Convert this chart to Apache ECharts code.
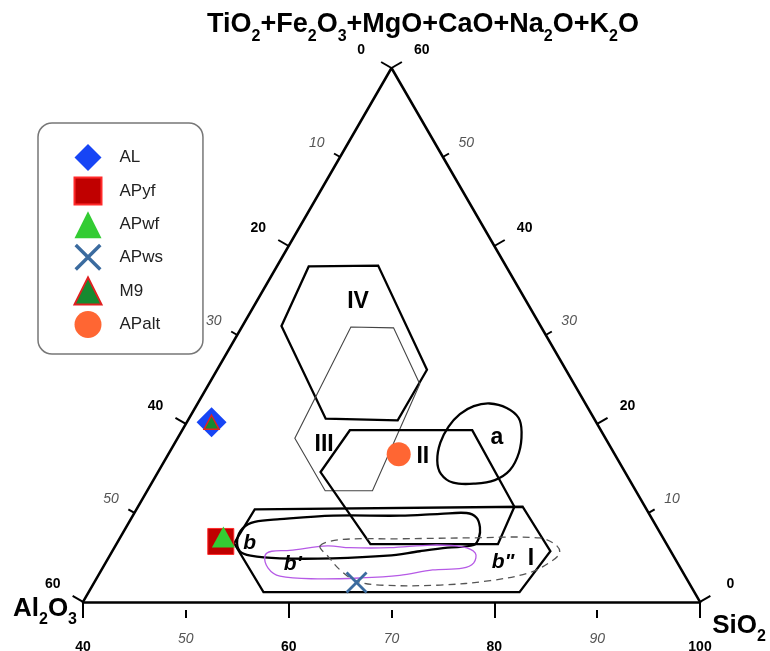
<!DOCTYPE html>
<html><head><meta charset="utf-8">
<script src="https://cdn.jsdelivr.net/npm/echarts@6/dist/echarts.min.js"></script>
<style>html,body{margin:0;padding:0;background:#fff}#c{width:770px;height:651px}</style>
</head><body><div id="c"></div>
<script>
// ---------------- data ----------------
// sample compositions: [SiO2, Al2O3, TiO2+Fe2O3+MgO+CaO+Na2O+K2O]
const sampleNames = ['AL','APyf','APwf','APws','M9','APalt'];
const AL    = [[42.4, 37.4, 20.2]];
const APyf  = [[50.0, 43.2, 6.8]];
const APwf  = [[50.0, 42.7, 7.3]];
const APws  = [[65.5, 32.3, 2.2]];
const M9    = [[42.4, 37.4, 20.2]];
const APalt = [[62.4, 21.0, 16.6]];

// axis ticks
const siO2Ticks  = [40, 50, 60, 70, 80, 90, 100];
const al2O3Ticks = [60, 50, 40, 30, 20, 10, 0];
const otherTicks = [0, 10, 20, 30, 40, 50, 60];

// compositional fields, vertices as [SiO2, TiO2+Fe2O3+MgO+CaO+Na2O+K2O] (Al2O3 = 100 - both)
const fieldIV  = [[43.1,37.7],[49.8,37.8],[60.4,26.1],[60.4,20.4],[53.3,20.6],[43.8,31.0]];
const fieldIII = [[51.4,18.4],[50.6,30.9],[54.8,30.8],[60.5,24.5],[61.9,12.5],[57.3,12.5]];
const fieldII  = [[56.3,19.3],[68.2,19.3],[76.6,10.7],[77.1,6.5],[64.7,6.5],[55.8,14.6]];
const fieldI   = [[51.5,10.4],[77.4,10.7],[82.6,5.7],[81.9,1.1],[57.0,1.1],[51.4,6.6]];
const fieldA   = [[68.4,22.3],[70.3,21.8],[72.0,20.7],[73.1,19.1],[74.0,16.8],[74.1,14.8],[73.2,13.7],[71.5,13.3],[69.3,13.4],[67.6,14.4],[66.5,15.9],[65.8,17.9],[65.7,19.7],[66.1,21.1],[67.0,22.0]];
const fieldB   = [[51.5,7.0],[51.4,8.3],[52.2,9.0],[54.5,9.3],[59.5,9.7],[66.0,9.7],[69.8,9.9],[72.3,10.0],[73.5,9.5],[74.4,8.4],[74.9,7.2],[74.8,6.4],[72.4,6.1],[69.9,5.7],[67.0,5.2],[61.8,4.9],[56.7,4.9],[53.7,5.2],[52.4,5.7]];
const fieldB1  = [[55.1,5.2],[55.5,5.7],[57.2,5.8],[60.6,6.3],[62.9,6.1],[66.8,6.1],[70.8,6.4],[73.8,6.2],[75.4,5.5],[75.8,4.4],[75.0,3.8],[72.2,3.6],[69.3,3.0],[65.6,2.7],[61.5,2.6],[57.7,2.9],[56.1,3.8]];
const fieldB2  = [[59.9,6.3],[61.5,7.0],[67.3,7.1],[74.0,7.2],[80.8,7.2],[82.8,6.4],[83.6,5.5],[83.2,4.5],[81.8,3.3],[78.4,2.4],[73.8,1.9],[67.9,1.9],[65.3,2.4],[63.2,3.6],[61.3,5.1]];

const fieldLabels   = ['IV','III','II','I','a','b',"b'",'b"'];
const fieldLabelPos = [[49.9,33.7],[54.6,17.7],[64.9,16.3],[81.1,4.9],[71.0,18.5],[52.9,6.6],[58.3,4.2],[78.6,4.5]];

// ---------------- helpers ----------------
const S3 = Math.sqrt(3) / 2;
function tern(si, oth) { return [si + oth / 2, oth * S3]; }
const FONT = '"Liberation Sans", Arial, sans-serif';
const NARROW = '"Liberation Sans Narrow", "Liberation Sans", Arial, sans-serif';
const BASE_GAP = 0.78; // space (in axis units) between triangle base and SiO2 axis line

const fields = [fieldIV, fieldIII, fieldII, fieldI, fieldA, fieldB, fieldB1, fieldB2];
const fieldKinds = ['thick','thin','thick','thick','blob','blob','purple','dashed'];
const kindStyle = {
  thick:  {stroke:'#000', lineWidth:2.3, smooth:0},
  thin:   {stroke:'#444', lineWidth:1.1, smooth:0},
  blob:   {stroke:'#000', lineWidth:2.3, smooth:0.35},
  purple: {stroke:'#b65ae6', lineWidth:1.3, smooth:0.35},
  dashed: {stroke:'#555', lineWidth:1.3, smooth:0.35, lineDash:[7,5]}
};

const tickData = [];
al2O3Ticks.forEach(v => { const c = tern(40, 60 - v); tickData.push([c[0], c[1], 0, v]); });
otherTicks.forEach(v => { const c = tern(100 - v, v); tickData.push([c[0], c[1], 1, v]); });

function sampleSeries(name, arr, symbol, size, style) {
  return {type:'scatter', name:name, data:arr.map(c => tern(c[0], c[2])), symbol:symbol,
    symbolSize:size, itemStyle:Object.assign({opacity:1}, style), z:10, silent:true, symbolKeepAspect:true};
}
const xPath = 'path://M0,9L9,0L50,41L91,0L100,9L59,50L100,91L91,100L50,59L9,100L0,91L41,50Z';

const chart = echarts.init(document.getElementById('c'), null, {renderer:'canvas'});
chart.setOption({
  animation:false,
  backgroundColor:'#fff',
  grid:{left:83, right:70, top:68, bottom:41, containLabel:false, outerBoundsMode:'none'},
  xAxis:[
    {type:'value', min:40, max:100, interval:20, position:'bottom',
     axisLine:{show:true, lineStyle:{color:'#000', width:2.5}},
     axisTick:{show:true, length:13, lineStyle:{color:'#000', width:2}},
     splitLine:{show:false},
     axisLabel:{margin:30, fontSize:14, fontWeight:'bold', color:'#000', fontFamily:NARROW}},
    {type:'value', min:40, max:100, interval:10, position:'bottom',
     axisLine:{show:false},
     axisTick:{show:true, length:8, lineStyle:{color:'#000', width:2}},
     splitLine:{show:false},
     axisLabel:{margin:22, fontSize:14, fontStyle:'italic', color:'#555', fontFamily:NARROW,
       formatter:v => (v % 20 === 10 ? String(v) : '')}}
  ],
  yAxis:{type:'value', min:-BASE_GAP, max:60 * S3, show:false, splitLine:{show:false}},
  legend:{
    orient:'vertical', left:38, top:123, padding:[21,40,16,35.5], itemGap:5.6,
    itemWidth:27, itemHeight:27, selectedMode:false,
    borderColor:'#777', borderWidth:1.5, borderRadius:14, backgroundColor:'#fff',
    textStyle:{fontSize:17, color:'#222', fontFamily:FONT, padding:[0,0,0,13]},
    data:sampleNames
  },
  graphic:[
    {type:'text', x:423, y:25, silent:true, style:{
      text:'TiO{s|2}+Fe{s|2}O{s|3}+MgO+CaO+Na{s|2}O+K{s|2}O',
      fontSize:27, fontWeight:'bold', fontFamily:FONT, fill:'#000', lineHeight:40,
      align:'center', verticalAlign:'middle', textAlign:'center', textVerticalAlign:'middle',
      rich:{s:{fontSize:16, fontWeight:'bold', fontFamily:FONT, fill:'#000', verticalAlign:'bottom'}}}},
    {type:'text', x:45, y:609, silent:true, style:{
      text:'Al{s|2}O{s|3}', fontSize:26, fontWeight:'bold', fontFamily:FONT, fill:'#000', lineHeight:38,
      align:'center', verticalAlign:'middle', textAlign:'center', textVerticalAlign:'middle',
      rich:{s:{fontSize:16, fontWeight:'bold', fontFamily:FONT, fill:'#000', verticalAlign:'bottom'}}}},
    {type:'text', x:739, y:626, silent:true, style:{
      text:'SiO{s|2}', fontSize:26, fontWeight:'bold', fontFamily:FONT, fill:'#000', lineHeight:38,
      align:'center', verticalAlign:'middle', textAlign:'center', textVerticalAlign:'middle',
      rich:{s:{fontSize:16, fontWeight:'bold', fontFamily:FONT, fill:'#000', verticalAlign:'bottom'}}}}
  ],
  series:[
    {type:'line', name:'frame', data:[tern(40,0), tern(40,60), tern(100,0)], showSymbol:false, symbol:'none',
     clip:false, silent:true, lineStyle:{color:'#000', width:2.5}, z:3},
    {type:'custom', name:'edgeTicks', coordinateSystem:'cartesian2d', data:tickData, clip:false, silent:true, z:3,
     renderItem:function(params, api){
       const p = api.coord([api.value(0), api.value(1)]);
       const edge = api.value(2), v = api.value(3);
       const nx = edge === 0 ? -S3 : S3, ny = -0.5;
       const major = v % 20 === 0;
       const len = major ? 12 : 7, dist = major ? 35 : 27;
       return {type:'group', children:[
         {type:'line', shape:{x1:p[0], y1:p[1], x2:p[0]+nx*len, y2:p[1]+ny*len},
          style:{stroke:'#000', lineWidth:2}},
         {type:'text', x:p[0]+nx*dist, y:p[1]+ny*dist,
          style:{text:String(v), align:'center', verticalAlign:'middle', textAlign:'center', textVerticalAlign:'middle',
            fill: major ? '#000' : '#555', fontSize:14, fontWeight: major ? 'bold' : 'normal',
            fontStyle: major ? 'normal' : 'italic', fontFamily:NARROW}}
       ]};
     }},
    {type:'custom', name:'fields', coordinateSystem:'cartesian2d', clip:false, silent:true, z:4,
     data:fields.map((f, i) => {
       let sx = 0, sy = 0; f.forEach(p => { const c = tern(p[0], p[1]); sx += c[0]; sy += c[1]; });
       return [sx / f.length, sy / f.length, i];
     }),
     renderItem:function(params, api){
       const i = api.value(2);
       const st = kindStyle[fieldKinds[i]];
       const pts = fields[i].map(p => api.coord(tern(p[0], p[1])));
       return {type:'polygon', shape:{points:pts, smooth:st.smooth},
         style:{fill:'none', stroke:st.stroke, lineWidth:st.lineWidth, lineDash:st.lineDash || null}};
     }},
    {type:'scatter', name:'fieldLabels', silent:true, z:5, symbolSize:0, itemStyle:{opacity:1},
     data:fieldLabels.map((t, i) => {
       const italic = t.charAt(0) === 'b';
       return {name:t, value:tern(fieldLabelPos[i][0], fieldLabelPos[i][1]),
         label:{fontStyle: italic ? 'italic' : 'normal', fontSize: italic ? 21 : 23}};
     }),
     label:{show:true, position:'inside', formatter:'{b}', color:'#000', opacity:1, fontWeight:'bold', fontFamily:FONT}},
    sampleSeries('AL', AL, 'diamond', 30, {color:'#1745f5'}),
    sampleSeries('APyf', APyf, 'rect', 26, {color:'#c00000', borderColor:'#ff2a2a', borderWidth:1}),
    sampleSeries('APwf', APwf, 'triangle', [23,21], {color:'#33cc33'}),
    sampleSeries('APws', APws, xPath, 22, {color:'#3b6b9f'}),
    sampleSeries('M9', M9, 'triangle', [15,14], {color:'#168a30', borderColor:'#e02020', borderWidth:1.5}),
    sampleSeries('APalt', APalt, 'circle', 24, {color:'#ff6633'})
  ]
});
</script></body></html>
